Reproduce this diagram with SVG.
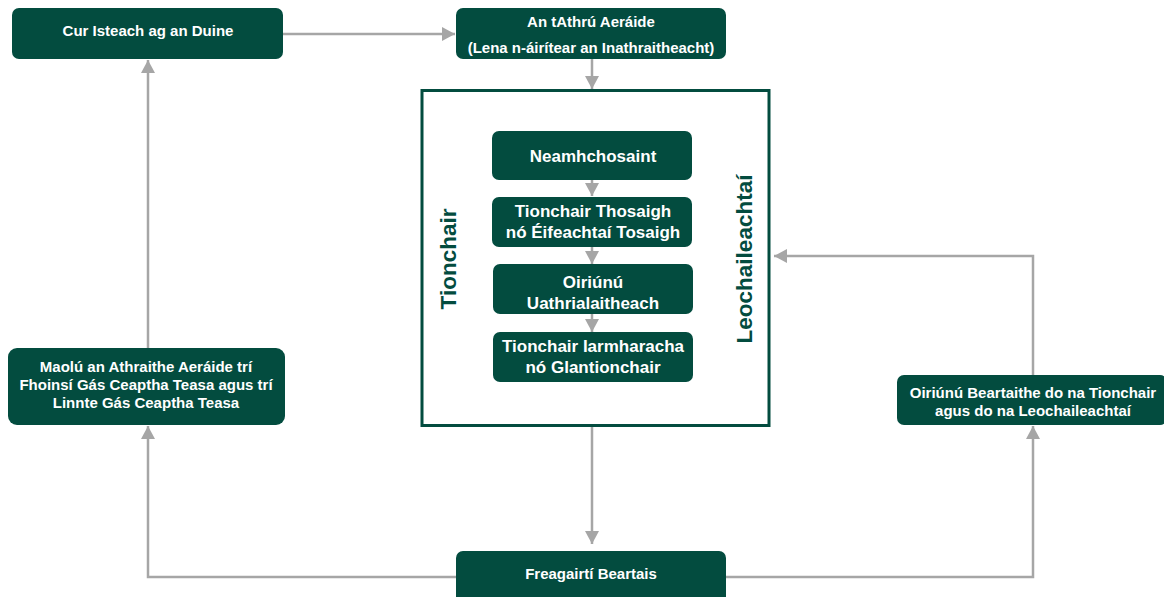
<svg xmlns="http://www.w3.org/2000/svg" width="1164" height="597" viewBox="0 0 1164 597">
<style>
.n{fill:#034c3f}
.t{font-family:"Liberation Sans",Arial,sans-serif;font-weight:bold;fill:#ffffff;text-anchor:middle;font-size:15px}
.ti{font-size:17px}
.c{fill:none;stroke:#a6a6a6;stroke-width:2.5}
.v{font-family:"Liberation Sans",Arial,sans-serif;font-weight:bold;fill:#034c3f;text-anchor:middle;font-size:22.5px}
</style>
<defs>
<marker id="ah" viewBox="0 0 13 14" refX="13" refY="7" markerWidth="13" markerHeight="14" markerUnits="userSpaceOnUse" orient="auto">
<path d="M0,0 L13,7 L0,14 Z" fill="#a6a6a6"/>
</marker>
</defs>
<rect width="1164" height="597" fill="#ffffff"/>
<g id="connectors">
<path class="c" d="M283,34 H455" marker-end="url(#ah)"/>
<path class="c" d="M592,59 V89" marker-end="url(#ah)"/>
<path class="c" d="M148,348 V60" marker-end="url(#ah)"/>
<path class="c" d="M456,577 H148 V426" marker-end="url(#ah)"/>
<path class="c" d="M726,577 H1033 V426" marker-end="url(#ah)"/>
<path class="c" d="M1033,375 V256 H774" marker-end="url(#ah)"/>
<path class="c" d="M592,426 V544" marker-end="url(#ah)"/>
<path class="c" d="M592,180 V196" marker-end="url(#ah)"/>
<path class="c" d="M592,247 V264" marker-end="url(#ah)"/>
<path class="c" d="M592,314 V332" marker-end="url(#ah)"/>
</g>
<g id="frame">
<rect x="422" y="90.5" width="347" height="335" fill="none" stroke="#034c3f" stroke-width="3"/>
<text class="v" transform="translate(456,259) rotate(-90)">Tionchair</text>
<text class="v" transform="translate(752,259) rotate(-90)">Leochaileachtaí</text>
</g>
<g id="n-human">
<rect class="n" x="12" y="8" width="271" height="51" rx="7"/>
<text class="t" x="148" y="36">Cur Isteach ag an Duine</text>
</g>
<g id="n-climate">
<rect class="n" x="456" y="8" width="270" height="51" rx="7"/>
<text class="t" x="591" y="27">An tAthrú Aeráide</text>
<text class="t" x="591" y="53">(Lena n-áirítear an Inathraitheacht)</text>
</g>
<g id="n-exposure">
<rect class="n" x="492" y="131" width="200" height="49" rx="7"/>
<text class="t ti" x="593" y="162">Neamhchosaint</text>
</g>
<g id="n-initial">
<rect class="n" x="492" y="197" width="200" height="50" rx="7"/>
<text class="t ti" x="593" y="217">Tionchair Thosaigh</text>
<text class="t ti" x="593" y="238">nó Éifeachtaí Tosaigh</text>
</g>
<g id="n-auto">
<rect class="n" x="493" y="264" width="200" height="50" rx="7"/>
<text class="t ti" x="593" y="288">Oiriúnú</text>
<text class="t ti" x="593" y="309">Uathrialaitheach</text>
</g>
<g id="n-residual">
<rect class="n" x="493" y="332" width="200" height="50" rx="7"/>
<text class="t ti" x="593" y="352">Tionchair Iarmharacha</text>
<text class="t ti" x="593" y="373">nó Glantionchair</text>
</g>
<g id="n-mitigation">
<rect class="n" x="8" y="348" width="277" height="77" rx="9"/>
<text class="t" x="146" y="372">Maolú an Athraithe Aeráide trí</text>
<text class="t" x="146" y="390">Fhoinsí Gás Ceaptha Teasa agus trí</text>
<text class="t" x="146" y="408">Linnte Gás Ceaptha Teasa</text>
</g>
<g id="n-adaptation">
<rect class="n" x="897" y="375" width="270" height="50" rx="7"/>
<text class="t" x="1033" y="398">Oiriúnú Beartaithe do na Tionchair</text>
<text class="t" x="1033" y="416">agus do na Leochaileachtaí</text>
</g>
<g id="n-policy">
<rect class="n" x="456" y="551" width="270" height="60" rx="7"/>
<text class="t" x="591" y="579">Freagairtí Beartais</text>
</g>
</svg>
